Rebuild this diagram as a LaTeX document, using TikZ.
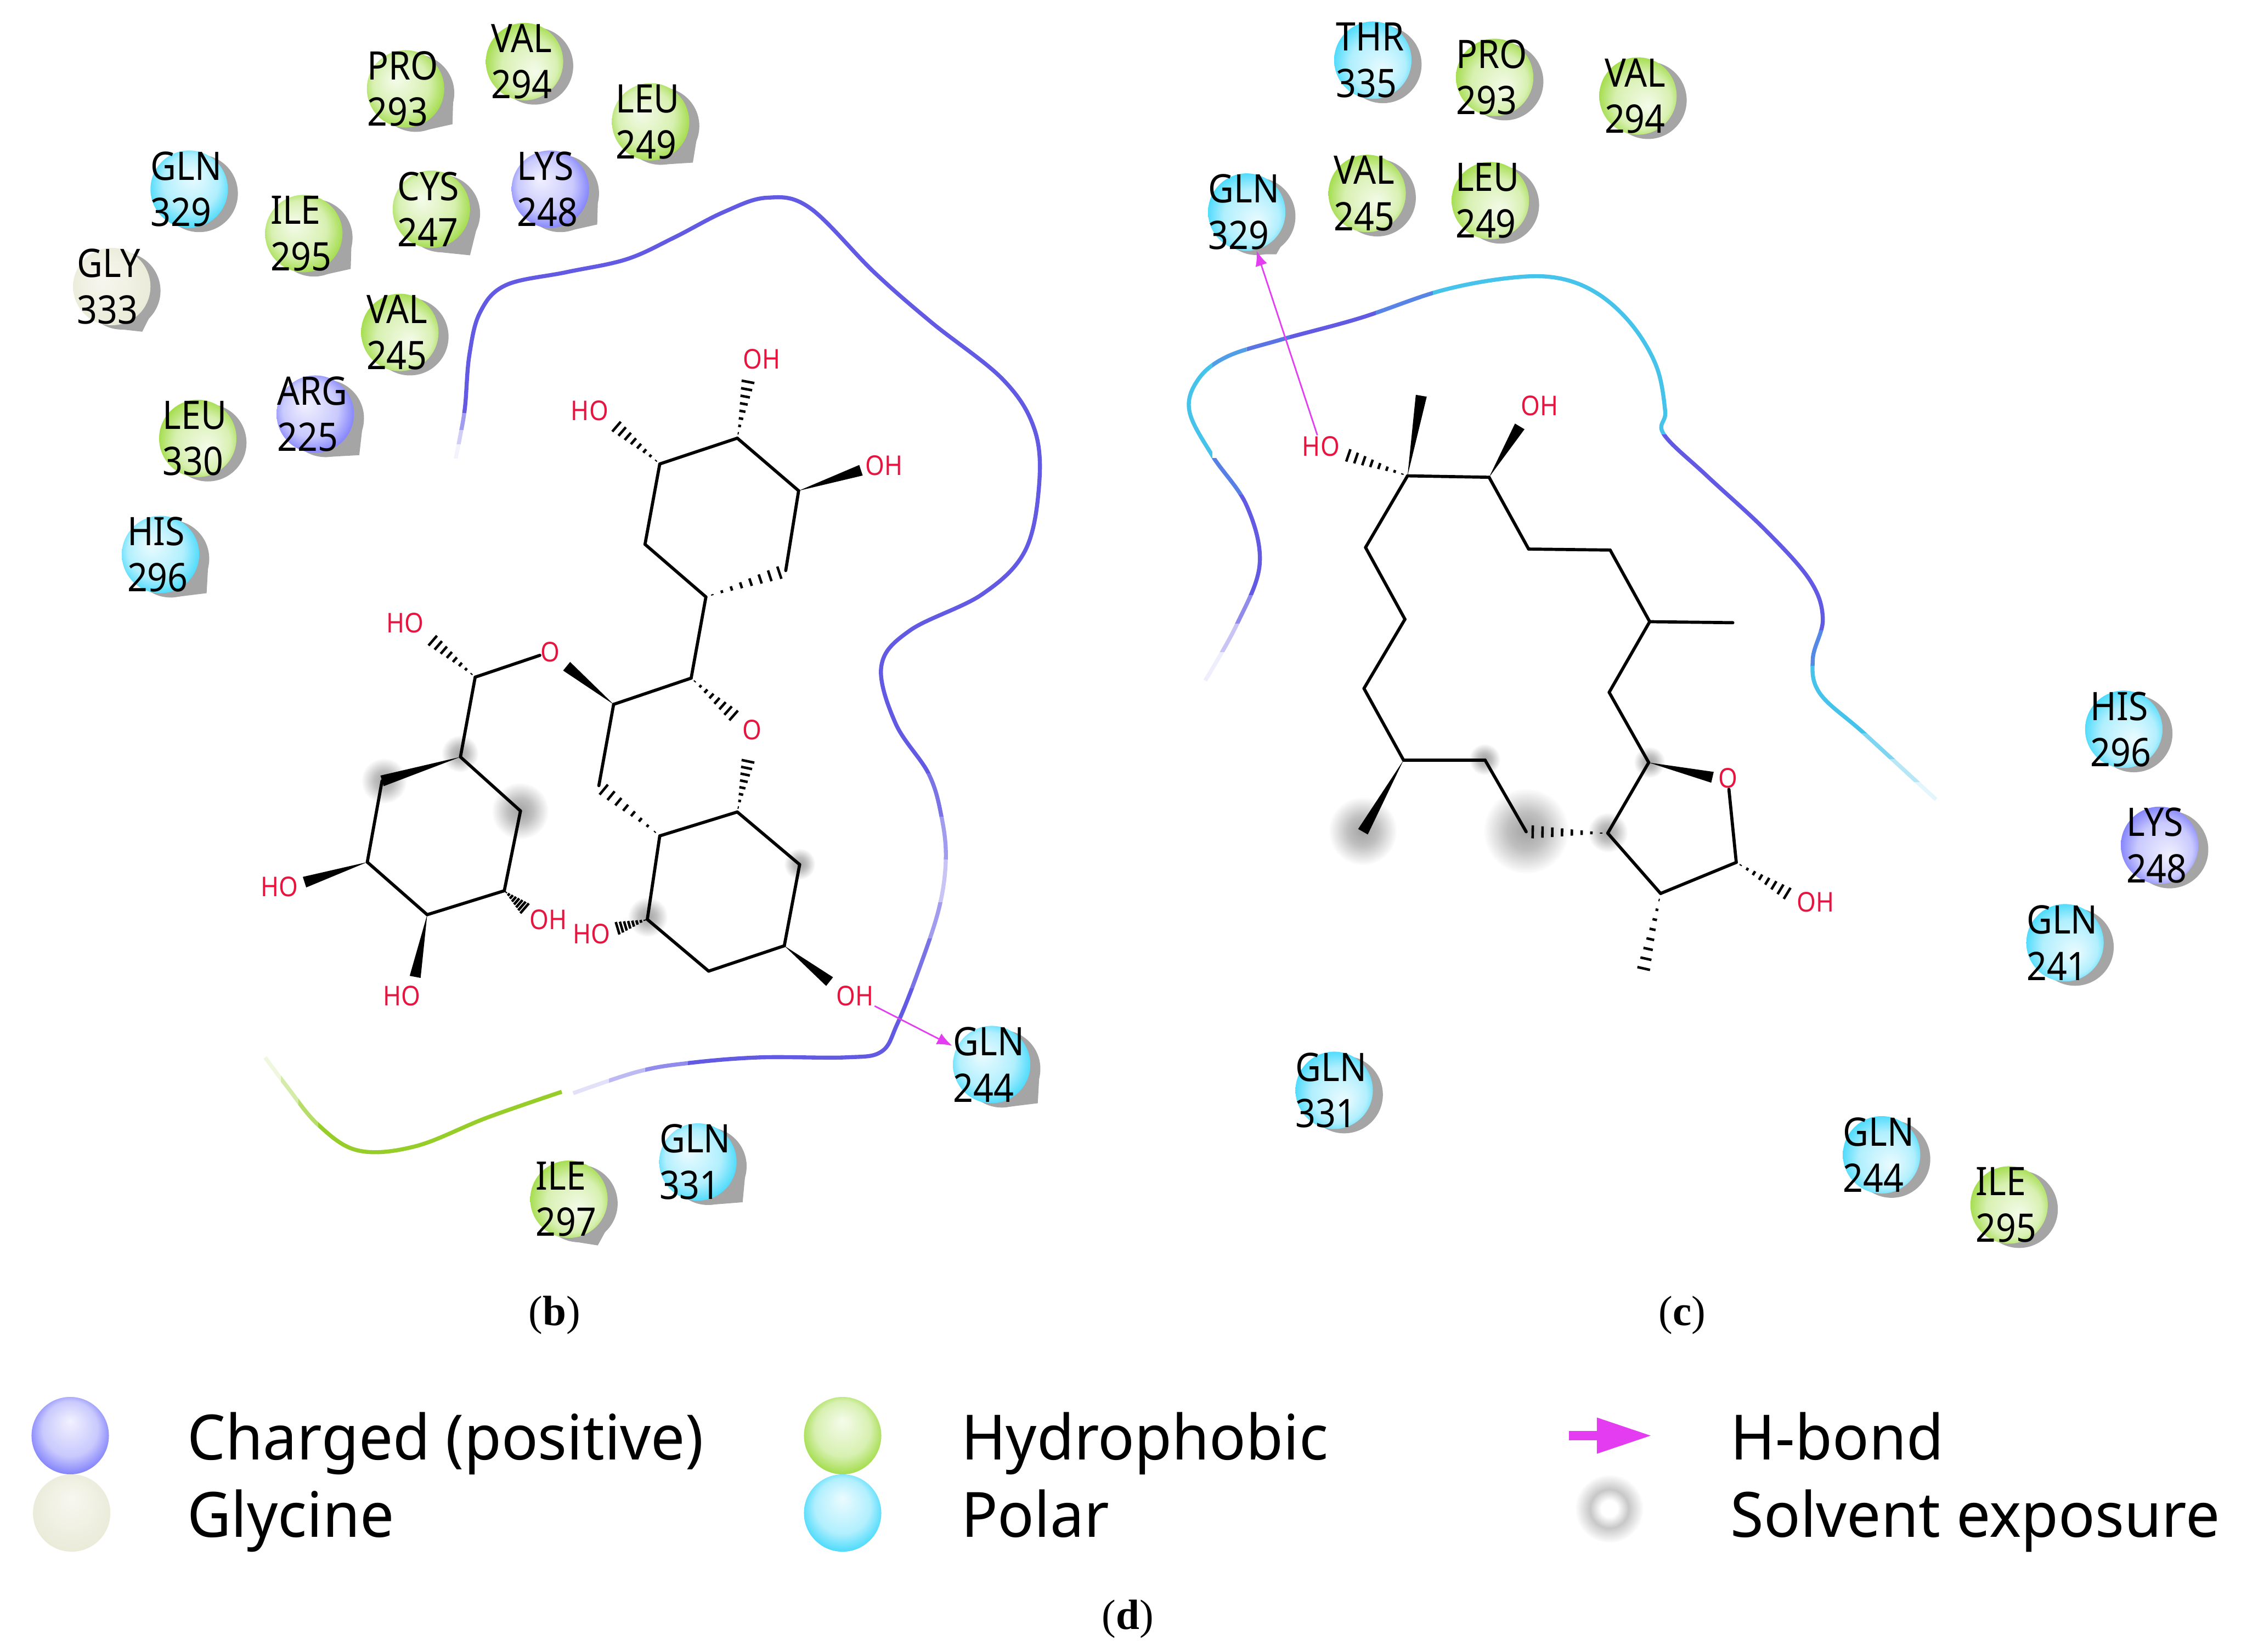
\documentclass[tikz,border=0pt]{standalone}
\usepackage{fontspec}
\usetikzlibrary{calc,arrows.meta}
\newfontfamily\labelfont[FakeStretch=0.9]{Noto Sans}
\newfontfamily\keyfont[FakeStretch=0.97]{Noto Sans}
\newfontfamily\capfont{Liberation Serif}
\definecolor{hbondcol}{RGB}{228,60,240}
\definecolor{atomred}{RGB}{232,20,64}
\definecolor{tearcol}{RGB}{165,165,165}
\definecolor{pocketblue}{RGB}{98,90,226}
\definecolor{pocketcyan}{RGB}{70,195,235}
\definecolor{pocketgreen}{RGB}{150,205,40}
\definecolor{polarcol}{RGB}{10,205,250}
\definecolor{phobcol}{RGB}{130,208,10}
\definecolor{chargecol}{RGB}{85,85,250}
\definecolor{glycol}{RGB}{232,232,212}
\pgfdeclareradialshading{polarball}{\pgfpoint{-7bp}{7bp}}{color(0bp)=(polarcol!8!white);color(18bp)=(polarcol!32!white);color(33bp)=(polarcol)}
\pgfdeclareradialshading{phobball}{\pgfpoint{-7bp}{7bp}}{color(0bp)=(phobcol!8!white);color(18bp)=(phobcol!32!white);color(33bp)=(phobcol)}
\pgfdeclareradialshading{chargeball}{\pgfpoint{-7bp}{7bp}}{color(0bp)=(chargecol!8!white);color(18bp)=(chargecol!32!white);color(33bp)=(chargecol)}
\pgfdeclareradialshading{glyball}{\pgfpoint{-7bp}{7bp}}{color(0bp)=(glycol!35!white);color(33bp)=(glycol)}
\pgfdeclareradialshading{exposehalo}{\pgfpoint{0bp}{0bp}}{color(0bp)=(black!36);color(11bp)=(black!25);color(25bp)=(white)}
\pgfdeclareradialshading{exposering}{\pgfpoint{0bp}{0bp}}{color(0bp)=(white);color(6bp)=(white);color(14bp)=(black!22);color(25bp)=(white)}
\tikzset{
  atomlabel/.style={inner sep=0pt,text=atomred,font=\labelfont\fontsize{5.4}{6.5}\selectfont},
  reslabel/.style={inner sep=0pt,align=left,font=\labelfont\fontsize{7.8}{9.2}\selectfont},
  keylabel/.style={inner sep=0pt,anchor=base west,font=\keyfont\fontsize{12.4}{14}\selectfont},
  caplabel/.style={inner sep=0pt,font=\capfont\fontsize{8.4}{10}\selectfont},
  bond/.style={line width=0.62pt,line cap=round,line join=round},
  hashstroke/.style={line width=0.5pt},
  pocket/.style={line width=0.8pt},
  hbond/.style={hbondcol,line width=0.3pt,-{Latex[length=3pt,width=2.4pt]}},
  tear/.style={fill=tearcol}
}
\newcommand{\wedgebond}[2]{\fill ($(#2)!1.1pt!90:(#1)$) -- ($(#2)!1.1pt!-90:(#1)$) -- (#1) -- cycle;}
\newcommand{\hashbond}[2]{\foreach \t in {0.08,0.2,0.32,0.44,0.56,0.68,0.8,0.92}{
    \coordinate (hashpt) at ($(#1)!\t!(#2)$);
    \draw[hashstroke] ($(hashpt)!\t*1.4pt!90:(#2)$) -- ($(hashpt)!\t*1.4pt!-90:(#2)$);}}
\newcommand{\halo}[3]{\shade[shading=exposehalo] (#1,#2) circle[radius=#3];}
\newcommand{\residue}[8]{
  \coordinate (#1c) at (#2,#3);
  \fill[tear] ($(#1c)+(7,3)$) circle[radius=27];
  \fill[tear] ($(#1c)+(#7:#8)$) -- ($(#1c)+(7,3)+(#7+48:27)$) -- ($(#1c)+(7,3)+(#7-48:27)$) -- cycle;
  \shade[shading=#5,shading angle=#6] (#1c) circle[radius=27];
  \node[reslabel] (#1) at ($(#1c)+(-2,0)$) {#4};
}
\newcommand{\pocketband}[4]{\begin{scope}\clip #3 rectangle #4; \draw[pocket,#1] #2;\end{scope}}
\newcommand{\pocketleft}{plot[smooth,tension=0.6] coordinates {(318,320) (321,305) (324.5,284) (327.5,248) (335,218) (353,199) (395,190) (437,181) (470,166) (505,148) (535,138) (565,145) (610,190) (650,225) (700,265) (722,300) (725,340) (715,385) (685,415) (635,440) (615,465) (625,505) (648,540) (657,570) (660,600) (655,635) (640,680) (626,715) (615,734) (590,738) (530,738) (480,742) (445,748) (400,763)}}
\newcommand{\pocketgreenpart}{plot[smooth,tension=0.6] coordinates {(392,762) (340,780) (290,800) (250,803) (222,785) (200,758) (185,738)}}
\newcommand{\pocketright}{plot[smooth,tension=0.6] coordinates {(841,475) (863,436) (879,394) (870,353) (846,318) (830,287) (836,265) (856,249) (894,237) (949,222) (1005,203) (1053,194) (1087,194) (1115,205) (1139,227) (1156,256) (1162,287) (1161,303) (1191,332) (1232,370) (1263,405) (1272,432) (1265,460) (1270,484) (1301,512) (1351,558)}}
\begin{document}
\begin{tikzpicture}[x=0.01cm,y=-0.01cm]
  \useasboundingbox (0,0) rectangle (1568,1153);
  \halo{951}{580}{24}
  \halo{1065}{580}{30}
  \halo{1036}{530}{11}
  \halo{1122}{581}{14}
  \halo{1151}{532}{11}
  \halo{268}{545}{16}
  \halo{321}{526}{13}
  \halo{363}{566}{20}
  \halo{558}{603}{11}
  \halo{452}{640}{14}
  \pocketband{pocketblue!8!white}{\pocketleft}{(310,310)}{(335,322)}
  \pocketband{pocketblue!30!white}{\pocketleft}{(310,300)}{(335,310)}
  \pocketband{pocketblue!60!white}{\pocketleft}{(310,288)}{(335,300)}
  \pocketband{pocketblue}{\pocketleft}{(310,100)}{(335,288)}
  \pocketband{pocketblue}{\pocketleft}{(335,100)}{(740,540)}
  \pocketband{pocketblue!85!white}{\pocketleft}{(600,540)}{(680,570)}
  \pocketband{pocketblue!60!white}{\pocketleft}{(600,570)}{(680,600)}
  \pocketband{pocketblue!35!white}{\pocketleft}{(600,600)}{(680,630)}
  \pocketband{pocketblue!60!white}{\pocketleft}{(600,630)}{(680,655)}
  \pocketband{pocketblue!85!white}{\pocketleft}{(600,655)}{(680,690)}
  \pocketband{pocketblue}{\pocketleft}{(480,690)}{(680,770)}
  \pocketband{pocketblue!70!white}{\pocketleft}{(450,730)}{(480,770)}
  \pocketband{pocketblue!42!white}{\pocketleft}{(425,730)}{(450,770)}
  \pocketband{pocketblue!18!white}{\pocketleft}{(398,730)}{(425,770)}
  \pocketband{pocketgreen}{\pocketgreenpart}{(222,750)}{(400,815)}
  \pocketband{pocketgreen!70!white}{\pocketgreenpart}{(208,750)}{(222,815)}
  \pocketband{pocketgreen!40!white}{\pocketgreenpart}{(196,735)}{(208,815)}
  \pocketband{pocketgreen!15!white}{\pocketgreenpart}{(180,725)}{(196,815)}
  \pocketband{pocketblue!10!white}{\pocketright}{(830,455)}{(885,480)}
  \pocketband{pocketblue!35!white}{\pocketright}{(830,435)}{(885,455)}
  \pocketband{pocketblue!70!white}{\pocketright}{(830,415)}{(885,435)}
  \pocketband{pocketblue}{\pocketright}{(855,345)}{(885,415)}
  \pocketband{pocketblue!65!pocketcyan}{\pocketright}{(846,320)}{(885,345)}
  \pocketband{pocketcyan}{\pocketright}{(820,245)}{(846,335)}
  \pocketband{pocketcyan!65!pocketblue}{\pocketright}{(846,235)}{(870,265)}
  \pocketband{pocketblue!75!pocketcyan}{\pocketright}{(870,230)}{(900,250)}
  \pocketband{pocketblue}{\pocketright}{(900,205)}{(960,245)}
  \pocketband{pocketblue!60!pocketcyan}{\pocketright}{(960,200)}{(1000,230)}
  \pocketband{pocketcyan}{\pocketright}{(1000,185)}{(1175,303.5)}
  \pocketband{pocketblue}{\pocketright}{(1155,303.5)}{(1280,440)}
  \pocketband{pocketblue!55!pocketcyan}{\pocketright}{(1255,440)}{(1280,465)}
  \pocketband{pocketcyan}{\pocketright}{(1255,465)}{(1310,512)}
  \pocketband{pocketcyan!70!white}{\pocketright}{(1295,512)}{(1325,530)}
  \pocketband{pocketcyan!40!white}{\pocketright}{(1315,530)}{(1340,546)}
  \pocketband{pocketcyan!15!white}{\pocketright}{(1335,546)}{(1360,565)}
  \path
    (514.5,305.8) coordinate (a1)
    (557.3,342.5) coordinate (a2)
    (548.3,398.2) coordinate (a3)
    (492.6,416.6) coordinate (a4)
    (450.1,379.9) coordinate (a5)
    (460.4,323.8) coordinate (a6)
    (522.6,263.1) coordinate (a1h)
    (427.6,295.5) coordinate (a6h)
    (600.8,328.2) coordinate (a2h)
    (482.3,473.3) coordinate (b1)
    (428.2,491.6) coordinate (b2)
    (417.9,548.3) coordinate (b3)
    (514.5,501.6) coordinate (b1h)
    (395.4,465.0) coordinate (b2w)
    (331.6,472.6) coordinate (c1)
    (321.3,528.3) coordinate (c2)
    (266.6,545.0) coordinate (c3)
    (256.3,601.7) coordinate (c4)
    (298.1,638.4) coordinate (c5)
    (351.9,621.7) coordinate (c6)
    (363.2,566.0) coordinate (c7)
    (299.4,444.9) coordinate (c1h)
    (212.5,615.7) coordinate (c4w)
    (289.7,681.8) coordinate (c5w)
    (367.3,635.0) coordinate (c6h)
    (460.4,583.4) coordinate (d1)
    (514.5,566.7) coordinate (d2)
    (558.0,603.4) coordinate (d3)
    (547.3,660.1) coordinate (d4)
    (494.5,677.8) coordinate (d5)
    (451.7,641.7) coordinate (d6)
    (522.6,528.3) coordinate (d2h)
    (429.2,648.4) coordinate (d6h)
    (578.9,685.1) coordinate (d4w)
    (982.2,332.1) coordinate (e1)
    (1039.1,333.1) coordinate (e2)
    (1066.7,383.2) coordinate (e3)
    (1123.6,383.9) coordinate (e4)
    (1151.2,433.9) coordinate (e5)
    (1122.9,483.2) coordinate (e6)
    (1150.5,532.2) coordinate (e7)
    (991.8,276.2) coordinate (e1w)
    (937.3,316.6) coordinate (e1h)
    (1060.5,297.6) coordinate (e2w)
    (1209.2,434.6) coordinate (e5m)
    (1195.0,542.5) coordinate (e7w)
    (1211.6,601.9) coordinate (f1)
    (1158.8,623.6) coordinate (f2)
    (1121.9,581.5) coordinate (f3)
    (1065.0,580.5) coordinate (f4)
    (1036.3,530.5) coordinate (f5)
    (979.4,530.5) coordinate (f6)
    (951.8,480.5) coordinate (f7)
    (980.4,432.2) coordinate (f8)
    (952.9,382.1) coordinate (f9)
    (1250.2,625.4) coordinate (f1h)
    (1146.0,680.5) coordinate (f2h)
    (951.1,580.5) coordinate (f6w);
  \draw
    (531.6,250.8) node[atomlabel] (oh1){OH}
    (411.5,286.5) node[atomlabel] (ho1){HO}
    (616.9,324.8) node[atomlabel] (oh2){OH}
    (524.8,509.3) node[atomlabel] (o1){O}
    (384.1,454.9) node[atomlabel] (o2){O}
    (282.7,434.9) node[atomlabel] (ho2){HO}
    (195.1,619.0) node[atomlabel] (ho3){HO}
    (280.4,695.1) node[atomlabel] (ho4){HO}
    (382.5,641.7) node[atomlabel] (oh3){OH}
    (413.0,651.7) node[atomlabel] (ho5){HO}
    (596.6,695.1) node[atomlabel] (oh4){OH}
    (921.8,311.4) node[atomlabel] (ho6){HO}
    (1074.3,283.1) node[atomlabel] (oh5){OH}
    (1205.7,543.2) node[atomlabel] (o3){O}
    (1266.8,629.5) node[atomlabel] (oh6){OH};
  \begin{scope}[bond]
    \draw (a1) to (a2);
    \draw (a2) to (a3);
    \draw (a4) to (a5);
    \draw (a5) to (a6);
    \draw (a6) to (a1);
    \draw (a4) to (b1);
    \draw (b1) to (b2);
    \draw (b2) to (b3);
    \draw (o2) to (c1);
    \draw (c1) to (c2);
    \draw (c2) to (c7);
    \draw (c7) to (c6);
    \draw (c6) to (c5);
    \draw (c5) to (c4);
    \draw (c4) to (c3);
    \draw (d1) to (d2);
    \draw (d2) to (d3);
    \draw (d3) to (d4);
    \draw (d4) to (d5);
    \draw (d5) to (d6);
    \draw (d6) to (d1);
    \draw (e1) to (e2);
    \draw (e2) to (e3);
    \draw (e3) to (e4);
    \draw (e4) to (e5);
    \draw (e5) to (e5m);
    \draw (e5) to (e6);
    \draw (e6) to (e7);
    \draw (e7) to (f3);
    \draw (o3) to (f1);
    \draw (f1) to (f2);
    \draw (f2) to (f3);
    \draw (f4) to (f5);
    \draw (f5) to (f6);
    \draw (f6) to (f7);
    \draw (f7) to (f8);
    \draw (f8) to (f9);
    \draw (f9) to (e1);
  \end{scope}
  \wedgebond{a2}{a2h}
  \wedgebond{b2}{b2w}
  \wedgebond{c2}{c3}
  \wedgebond{c4}{c4w}
  \wedgebond{c5}{c5w}
  \wedgebond{d4}{d4w}
  \wedgebond{e1}{e1w}
  \wedgebond{e2}{e2w}
  \wedgebond{e7}{e7w}
  \wedgebond{f6}{f6w}
  \hashbond{a1}{a1h}
  \hashbond{a6}{a6h}
  \hashbond{a4}{a3}
  \hashbond{b1}{b1h}
  \hashbond{c1}{c1h}
  \hashbond{c6}{c6h}
  \hashbond{d1}{b3}
  \hashbond{d2}{d2h}
  \hashbond{d6}{d6h}
  \hashbond{e1}{e1h}
  \hashbond{f1}{f1h}
  \hashbond{f2}{f2h}
  \hashbond{f3}{f4}
  \residue{pro293b}{283}{62}{PRO\\293}{phobball}{0}{37}{41}
  \residue{val294b}{366}{43}{VAL\\294}{phobball}{180}{45}{28}
  \residue{leu249b}{454}{85}{LEU\\249}{phobball}{0}{44}{41}
  \residue{gln329b}{132}{132}{GLN\\329}{polarball}{-60}{45}{28}
  \residue{ile295b}{212}{163}{ILE\\295}{phobball}{0}{37}{41}
  \residue{cys247b}{301}{146}{CYS\\247}{phobball}{0}{50}{42}
  \residue{lys248b}{384}{132}{LYS\\248}{chargeball}{0}{37}{41}
  \residue{gly333b}{78}{200}{GLY\\333}{glyball}{0}{56}{38}
  \residue{val245b}{279}{232}{VAL\\245}{phobball}{180}{45}{28}
  \residue{arg225b}{220}{289}{ARG\\225}{chargeball}{0}{43}{42}
  \residue{leu330b}{138}{306}{LEU\\330}{phobball}{180}{45}{28}
  \residue{his296b}{112}{387}{HIS\\296}{polarball}{0}{40}{42}
  \residue{gln244b}{692}{743}{GLN\\244}{polarball}{0}{40}{42}
  \residue{gln331b}{487}{811}{GLN\\331}{polarball}{0}{42}{42}
  \residue{ile297b}{397}{837}{ILE\\297}{phobball}{180}{58}{38}
  \residue{thr335c}{958}{42}{THR\\335}{polarball}{180}{45}{28}
  \residue{pro293c}{1043}{54}{PRO\\293}{phobball}{180}{50}{33}
  \residue{val294c}{1143}{67}{VAL\\294}{phobball}{180}{45}{28}
  \residue{gln329c}{870}{148}{GLN\\329}{polarball}{180}{55}{36}
  \residue{val245c}{954}{135}{VAL\\245}{phobball}{180}{45}{28}
  \residue{leu249c}{1040}{140}{LEU\\249}{phobball}{180}{50}{33}
  \residue{his296c}{1482}{509}{HIS\\296}{polarball}{180}{45}{28}
  \residue{lys248c}{1507}{590}{LYS\\248}{chargeball}{180}{45}{28}
  \residue{gln241c}{1441}{658}{GLN\\241}{polarball}{180}{45}{28}
  \residue{gln331c}{931}{761}{GLN\\331}{polarball}{180}{50}{33}
  \residue{gln244c}{1313}{806}{GLN\\244}{polarball}{180}{45}{28}
  \residue{ile295c}{1402}{841}{ILE\\295}{phobball}{180}{45}{28}
  \draw[hbond] (oh4) to (gln244b);
  \draw[hbond] (ho6) to (gln329c);
  \shade[shading=chargeball,shading angle=-45] (49,1002) circle[radius=27];
  \shade[shading=glyball,shading angle=-45] (50,1056) circle[radius=27];
  \shade[shading=phobball,shading angle=-45] (588,1002) circle[radius=27];
  \shade[shading=polarball,shading angle=-45] (588,1056) circle[radius=27];
  \shade[shading=exposering] (1123,1053) circle[radius=24];
  \coordinate (keytail) at (1095,1002);
  \coordinate (keyhead) at (1153,1002);
  \draw[hbondcol,line width=1.9pt,-{Triangle[length=11pt,width=6.6pt]}] (keytail) to (keyhead);
  \draw
    (130,1019) node[keylabel] (charged){Charged (positive)}
    (130,1073) node[keylabel] (glycine){Glycine}
    (670,1019) node[keylabel] (hydrophobic){Hydrophobic}
    (670,1073) node[keylabel] (polar){Polar}
    (1207,1019) node[keylabel] (hbondkey){H-bond}
    (1207,1073) node[keylabel] (solvent){Solvent exposure}
    (387,918) node[caplabel] (capb){({\bfseries b})}
    (1174,918) node[caplabel] (capc){({\bfseries c})}
    (787,1130) node[caplabel] (capd){({\bfseries d})};
\end{tikzpicture}
\end{document}
